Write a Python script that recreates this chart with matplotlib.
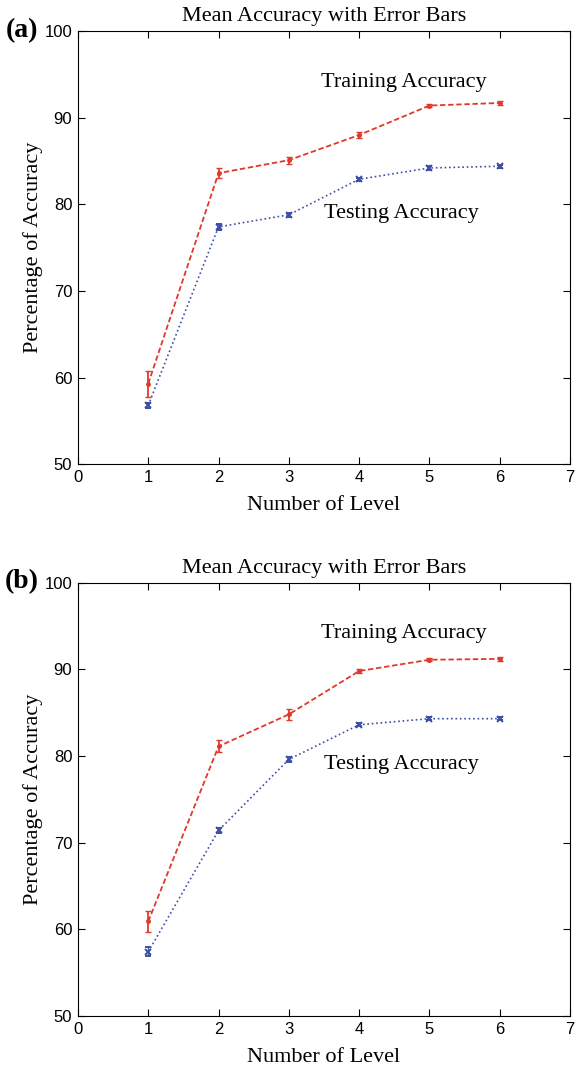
import matplotlib
matplotlib.use("Agg")
import matplotlib.pyplot as plt
import numpy as np

levels = [1, 2, 3, 4, 5, 6]

# panel (a)
train_a = [59.3, 83.6, 85.1, 88.0, 91.4, 91.7]
train_err_a = [1.5, 0.6, 0.4, 0.3, 0.2, 0.2]
test_a = [56.8, 77.4, 78.8, 82.9, 84.2, 84.4]
test_err_a = [0.3, 0.3, 0.2, 0.2, 0.2, 0.2]

# panel (b)
train_b = [60.9, 81.1, 84.8, 89.8, 91.1, 91.2]
train_err_b = [1.2, 0.7, 0.6, 0.2, 0.2, 0.2]
test_b = [57.4, 71.4, 79.6, 83.6, 84.3, 84.3]
test_err_b = [0.5, 0.3, 0.3, 0.2, 0.2, 0.2]

red = "#e0392b"
blue = "#3e4fa8"
serif = ["Liberation Serif", "DejaVu Serif"]
sans = ["Liberation Sans", "DejaVu Sans"]

fig = plt.figure(figsize=(5.77, 10.7), dpi=100)
ax_a = fig.add_axes([0.135, 0.566, 0.853, 0.405])
ax_b = fig.add_axes([0.135, 0.0505, 0.853, 0.405])

panels = [
    (ax_a, "(a)", train_a, train_err_a, test_a, test_err_a),
    (ax_b, "(b)", train_b, train_err_b, test_b, test_err_b),
]

for ax, tag, tr, tr_e, te, te_e in panels:
    ax.errorbar(levels, tr, yerr=tr_e, color=red, ls="--", lw=1.3,
                marker=".", ms=5, capsize=2.5, elinewidth=1.3, dashes=(3, 1.5))
    ax.errorbar(levels, te, yerr=te_e, color=blue, ls=":", lw=1.2,
                marker="x", ms=4.5, mew=1.4, capsize=2.5, elinewidth=1.0)
    ax.set_xlim(0, 7)
    ax.set_ylim(50, 100)
    ax.set_xticks(range(0, 8))
    ax.set_yticks(range(50, 101, 10))
    ax.tick_params(direction="in", top=True, right=True, length=5,
                   labelsize=12, width=0.8, pad=4)
    for lbl in ax.get_xticklabels() + ax.get_yticklabels():
        lbl.set_family(sans)
    for sp in ax.spines.values():
        sp.set_linewidth(0.8)
    ax.set_title("Mean Accuracy with Error Bars", family=serif, fontsize=16, pad=7)
    ax.set_xlabel("Number of Level", family=serif, fontsize=16, labelpad=8)
    ax.set_ylabel("Percentage of Accuracy", family=serif, fontsize=16, labelpad=1)
    ax.text(4.63, 94.1, "Training Accuracy", family=serif, fontsize=16,
            ha="center", va="center")
    ax.text(4.6, 79.0, "Testing Accuracy", family=serif, fontsize=16,
            ha="center", va="center")
    ax.text(-0.8, 100.1, tag, family=serif, fontsize=20, fontweight="bold",
            ha="center", va="center", transform=ax.transData)

fig.savefig("out.png", dpi=100)
